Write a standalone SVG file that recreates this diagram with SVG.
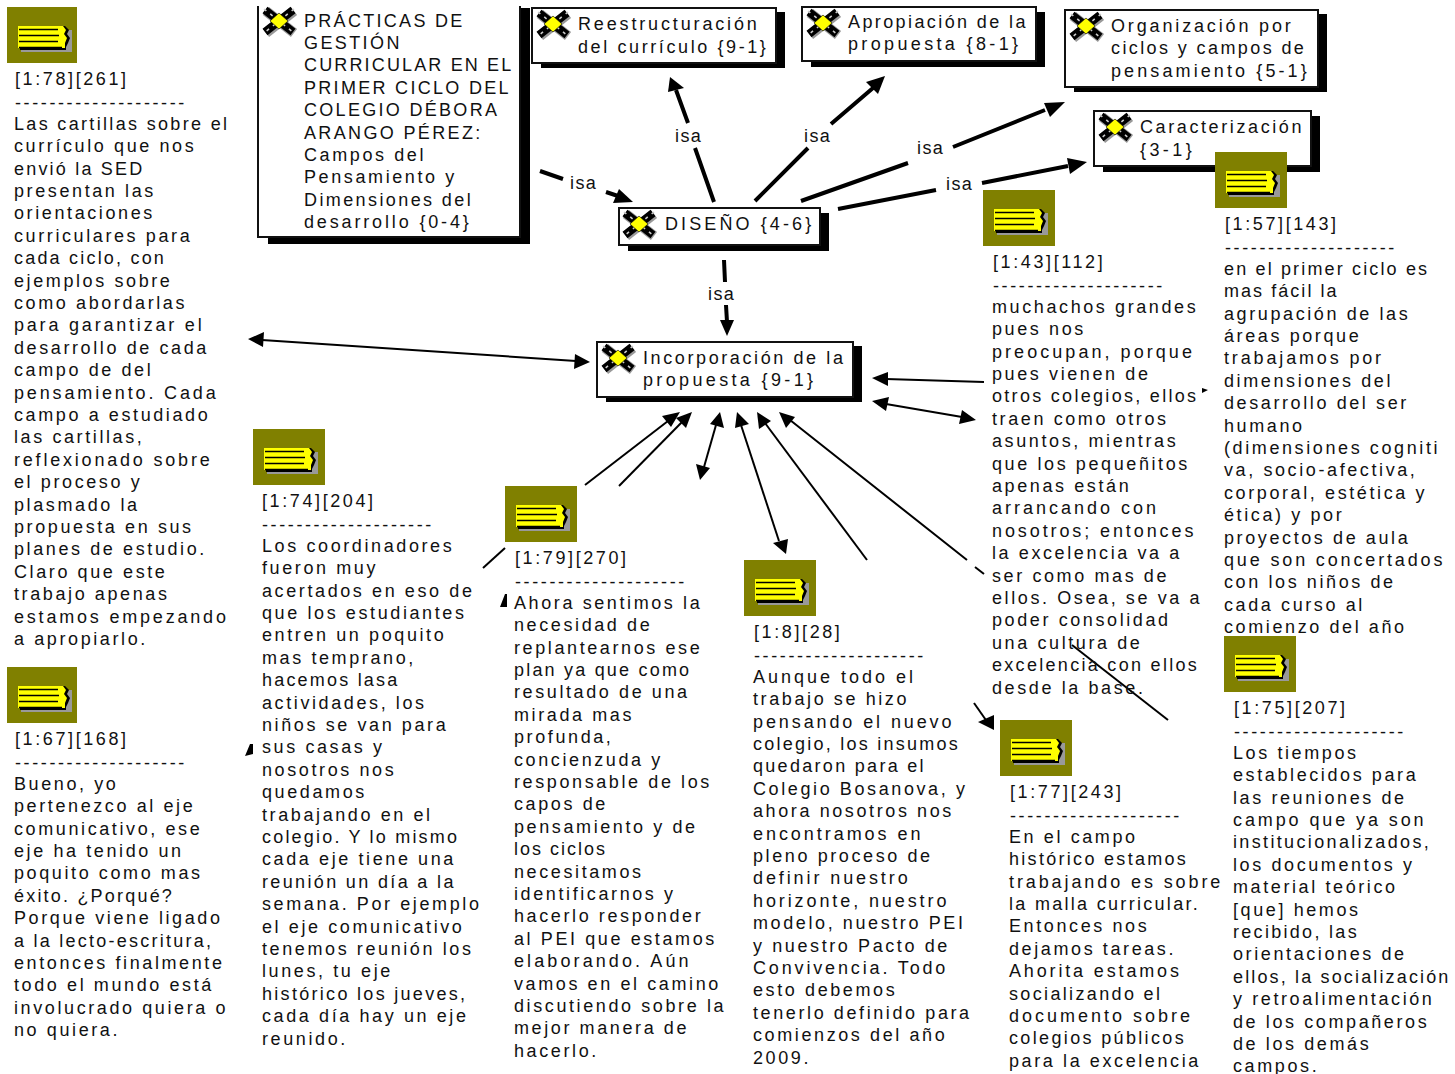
<svg xmlns="http://www.w3.org/2000/svg" width="1455" height="1074" viewBox="0 0 1455 1074">
<style>
text{font-family:"Liberation Sans",Arial,sans-serif;font-size:18px;letter-spacing:2.6px;fill:#111}
.b{fill:#fff;stroke:#111;stroke-width:2}
.s{fill:#000}
.o{fill:#808000}
.t{stroke:#000;stroke-width:2;fill:none}
.k{stroke:#000;stroke-width:4;fill:none}
.h{fill:#000}
.l{letter-spacing:1.4px}
</style>
<defs>
<g id="star">
<path d="M-14,-11L14,11M14,-11L-14,11" stroke="#999" stroke-width="10" fill="none" transform="translate(1,1)"/>
<path d="M-14,-11L14,11M14,-11L-14,11" stroke="#000" stroke-width="8" fill="none"/>
<path d="M-15,-12L15,12M15,-12L-15,12" stroke="#ccc" stroke-width="1.6" stroke-dasharray="3 5" fill="none"/>
<path d="M0,-8L9,0L0,8L-9,0Z" fill="#ff0" stroke="#000" stroke-width="0.6"/>
</g>
<g id="note">
<path d="M14,23H65V45H14Z" fill="#999"/>
<path d="M13,19H58L62,23L60,27L63,31L61,36L59,40V43H13Z" fill="#000"/>
<path d="M11,19H56L59,23L57,27L60,31L58,36V41H11Z" fill="#ff0"/>
<path d="M12,22.500H51M12,28.500H52M12,34.500H51M12,40.500H55" stroke="#000" stroke-width="1.700"/>
</g>
</defs>
<g id="connectors">
<path class="k" d="M540,171L563,179M606,192L618,196"/>
<path class="h" d="M633,202L613,203L619,189Z"/>
<path class="k" d="M714,202L695,148M688,123L676,90"/>
<path class="h" d="M670,77L684,88L668,92Z"/>
<path class="k" d="M755,201L808,148M831,124L873,88"/>
<path class="h" d="M885,76L878,94L866,82Z"/>
<path class="k" d="M801,201L908,163M953,147L1045,110"/>
<path class="h" d="M1065,102L1050,117L1044,103Z"/>
<path class="k" d="M838,209L936,190M982,183L1068,166"/>
<path class="h" d="M1087,162L1070,174L1067,158Z"/>
<path class="k" d="M724,260L725,282M726,305L727,322"/>
<path class="h" d="M727,336L720,320L734,320Z"/>
<path class="t" d="M262,340L576,361"/>
<path class="h" d="M248,339L264,332L263,347ZM590,362L574,369L575,354Z"/>
<path class="t" d="M984,382L886,379"/>
<path class="h" d="M872,378L888,372L888,386Z"/>
<path class="t" d="M886,404L962,417"/>
<path class="h" d="M872,401L889,397L886,411ZM976,420L959,424L962,410Z"/>
<path class="t" d="M585,485L668,421"/>
<path class="h" d="M680,412L671,427L662,416Z"/>
<path class="t" d="M619,486L682,422"/>
<path class="h" d="M692,412L686,428L676,418Z"/>
<path class="t" d="M704,467L716,425"/>
<path class="h" d="M720,412L724,428L710,424ZM700,480L696,464L710,468Z"/>
<path class="t" d="M741,425L779,541"/>
<path class="h" d="M737,412L749,424L735,428ZM786,554L773,543L788,539Z"/>
<path class="t" d="M867,560L765,423"/>
<path class="h" d="M757,412L771,421L759,429Z"/>
<path class="t" d="M967,560L790,420M975,567L984,574"/>
<path class="h" d="M779,412L795,417L786,428Z"/>
<path class="t" d="M1072,645L1168,720"/>
<path class="t" d="M974,703L988,723"/>
<path class="h" d="M994,730L978,722L994,715Z"/>
<path class="t" d="M483,568L505,548"/>
<path class="h" d="M500,607L505,594H507V607ZM245,756L250,744H253V754ZM1202,388L1208,390L1202,393Z"/>
<text class="l" x="570" y="189">isa</text>
<text class="l" x="675" y="142">isa</text>
<text class="l" x="804" y="142">isa</text>
<text class="l" x="917" y="154">isa</text>
<text class="l" x="946" y="190">isa</text>
<text class="l" x="708" y="300">isa</text>
</g>
<g id="n-practicas">
<path class="s" d="M268,8H530V244H268Z"/>
<path fill="#fff" d="M258,6H520V237H258Z"/>
<path fill="none" stroke="#111" stroke-width="2" d="M258,6V237H520V6"/>
<use href="#star" x="279" y="21"/>
<text x="304" y="26.500"><tspan letter-spacing="2.3">PRÁCTICAS DE</tspan><tspan x="304" dy="22.4" letter-spacing="2.4">GESTIÓN</tspan><tspan x="304" dy="22.4" letter-spacing="2.15">CURRICULAR EN EL</tspan><tspan x="304" dy="22.4" letter-spacing="2.3">PRIMER CICLO DEL</tspan><tspan x="304" dy="22.4" letter-spacing="2.3">COLEGIO DÉBORA</tspan><tspan x="304" dy="22.4" letter-spacing="2.35">ARANGO PÉREZ:</tspan><tspan x="304" dy="22.4">Campos del</tspan><tspan x="304" dy="22.4">Pensamiento y</tspan><tspan x="304" dy="22.4" letter-spacing="2.4">Dimensiones del</tspan><tspan x="304" dy="22.4" letter-spacing="2.85">desarrollo {0-4}</tspan></text>
</g>
<g id="n-reestructuracion">
<rect class="s" x="541" y="12" width="244" height="56"/>
<rect class="b" x="532" y="8" width="244" height="55"/>
<use href="#star" x="553" y="24"/>
<text x="578" y="30"><tspan letter-spacing="2.85">Reestructuración</tspan><tspan x="578" dy="22.6">del currículo {9-1}</tspan></text>
</g>
<g id="n-apropiacion">
<rect class="s" x="811" y="12" width="234" height="55"/>
<rect class="b" x="802" y="7" width="234" height="54"/>
<use href="#star" x="823" y="23"/>
<text x="848" y="28"><tspan letter-spacing="2.4">Apropiación de la</tspan><tspan x="848" dy="22.4" letter-spacing="3.35">propuesta {8-1}</tspan></text>
</g>
<g id="n-organizacion">
<rect class="s" x="1074" y="14" width="253" height="78"/>
<rect class="b" x="1065" y="10" width="253" height="77"/>
<use href="#star" x="1086" y="26"/>
<text x="1111" y="32"><tspan letter-spacing="2.85">Organización por</tspan><tspan x="1111" dy="22.4" letter-spacing="2.4">ciclos y campos de</tspan><tspan x="1111" dy="22.4" letter-spacing="3.1">pensamiento {5-1}</tspan></text>
</g>
<g id="n-caracterizacion">
<rect class="s" x="1103" y="116" width="217" height="56"/>
<rect class="b" x="1094" y="111" width="217" height="55"/>
<use href="#star" x="1115" y="127"/>
<text x="1140" y="133">Caracterización<tspan x="1140" dy="23" letter-spacing="3.4">{3-1}</tspan></text>
</g>
<g id="n-diseno">
<rect class="s" x="628" y="213" width="201" height="38"/>
<rect class="b" x="619" y="208" width="201" height="37"/>
<use href="#star" x="639" y="224"/>
<text x="665" y="230" letter-spacing="3.1" style="letter-spacing:3.1px">DISEÑO {4-6}</text>
</g>
<g id="n-incorporacion">
<rect class="s" x="606" y="346" width="256" height="56"/>
<rect class="b" x="597" y="342" width="256" height="55"/>
<use href="#star" x="618" y="358"/>
<text x="643" y="364">Incorporación de la<tspan x="643" dy="22.4" letter-spacing="3.35">propuesta {9-1}</tspan></text>
</g>
<g id="q-78">
<rect class="o" x="7" y="7" width="70" height="56"/>
<use href="#note" x="7" y="7"/>
<text x="15" y="85">[1:78][261]<tspan x="15" dy="23.5">--------------------</tspan><tspan x="14" dy="21.3" letter-spacing="2.33">Las cartillas sobre el</tspan><tspan x="14" dy="22.4">currículo que nos</tspan><tspan x="14" dy="22.4" letter-spacing="2.2">envió la SED</tspan><tspan x="14" dy="22.4">presentan las</tspan><tspan x="14" dy="22.4">orientaciones</tspan><tspan x="14" dy="22.4">curriculares para</tspan><tspan x="14" dy="22.4" letter-spacing="2.2">cada ciclo, con</tspan><tspan x="14" dy="22.4">ejemplos sobre</tspan><tspan x="14" dy="22.4">como abordarlas</tspan><tspan x="14" dy="22.4" letter-spacing="2.8">para garantizar el</tspan><tspan x="14" dy="22.4">desarrollo de cada</tspan><tspan x="14" dy="22.4">campo de del</tspan><tspan x="14" dy="22.4" letter-spacing="2.85">pensamiento. Cada</tspan><tspan x="14" dy="22.4">campo a estudiado</tspan><tspan x="14" dy="22.4">las cartillas,</tspan><tspan x="14" dy="22.4" letter-spacing="2.8">reflexionado sobre</tspan><tspan x="14" dy="22.4">el proceso y</tspan><tspan x="14" dy="22.4">plasmado la</tspan><tspan x="14" dy="22.4">propuesta en sus</tspan><tspan x="14" dy="22.4">planes de estudio.</tspan><tspan x="14" dy="22.4">Claro que este</tspan><tspan x="14" dy="22.4">trabajo apenas</tspan><tspan x="14" dy="22.4" letter-spacing="2.8">estamos empezando</tspan><tspan x="14" dy="22.4">a apropiarlo.</tspan></text>
</g>
<g id="q-67">
<rect class="o" x="7" y="667" width="70" height="56"/>
<use href="#note" x="7" y="667"/>
<text x="15" y="745">[1:67][168]<tspan x="15" dy="23.5">--------------------</tspan><tspan x="14" dy="21.3">Bueno, yo</tspan><tspan x="14" dy="22.4">pertenezco al eje</tspan><tspan x="14" dy="22.4">comunicativo, ese</tspan><tspan x="14" dy="22.4">eje ha tenido un</tspan><tspan x="14" dy="22.4">poquito como mas</tspan><tspan x="14" dy="22.4" letter-spacing="2.2">éxito. ¿Porqué?</tspan><tspan x="14" dy="22.4">Porque viene ligado</tspan><tspan x="14" dy="22.4" letter-spacing="2.25">a la lecto-escritura,</tspan><tspan x="14" dy="22.4">entonces finalmente</tspan><tspan x="14" dy="22.4">todo el mundo está</tspan><tspan x="14" dy="22.4">involucrado quiera o</tspan><tspan x="14" dy="22.4">no quiera.</tspan></text>
</g>
<g id="q-74">
<rect class="o" x="253" y="429" width="72" height="56"/>
<use href="#note" x="253" y="429"/>
<text x="262" y="507">[1:74][204]<tspan x="262" dy="23.5">--------------------</tspan><tspan x="262" dy="21.3">Los coordinadores</tspan><tspan x="262" dy="22.4">fueron muy</tspan><tspan x="262" dy="22.4">acertados en eso de</tspan><tspan x="262" dy="22.4">que los estudiantes</tspan><tspan x="262" dy="22.4">entren un poquito</tspan><tspan x="262" dy="22.4">mas temprano,</tspan><tspan x="262" dy="22.4" letter-spacing="2.2">hacemos lasa</tspan><tspan x="262" dy="22.4">actividades, los</tspan><tspan x="262" dy="22.4">niños se van para</tspan><tspan x="262" dy="22.4">sus casas y</tspan><tspan x="262" dy="22.4">nosotros nos</tspan><tspan x="262" dy="22.4">quedamos</tspan><tspan x="262" dy="22.4">trabajando en el</tspan><tspan x="262" dy="22.4" letter-spacing="2.2">colegio. Y lo mismo</tspan><tspan x="262" dy="22.4">cada eje tiene una</tspan><tspan x="262" dy="22.4" letter-spacing="2.35">reunión un día a la</tspan><tspan x="262" dy="22.4">semana. Por ejemplo</tspan><tspan x="262" dy="22.4">el eje comunicativo</tspan><tspan x="262" dy="22.4">tenemos reunión los</tspan><tspan x="262" dy="22.4">lunes, tu eje</tspan><tspan x="262" dy="22.4" letter-spacing="2.3">histórico los jueves,</tspan><tspan x="262" dy="22.4">cada día hay un eje</tspan><tspan x="262" dy="22.4">reunido.</tspan></text>
</g>
<g id="q-79">
<rect class="o" x="505" y="486" width="72" height="56"/>
<use href="#note" x="505" y="486"/>
<text x="515" y="564">[1:79][270]<tspan x="515" dy="23.5">--------------------</tspan><tspan x="514" dy="21.3">Ahora sentimos la</tspan><tspan x="514" dy="22.4">necesidad de</tspan><tspan x="514" dy="22.4">replantearnos ese</tspan><tspan x="514" dy="22.4" letter-spacing="2.2">plan ya que como</tspan><tspan x="514" dy="22.4">resultado de una</tspan><tspan x="514" dy="22.4">mirada mas</tspan><tspan x="514" dy="22.4">profunda,</tspan><tspan x="514" dy="22.4">concienzuda y</tspan><tspan x="514" dy="22.4">responsable de los</tspan><tspan x="514" dy="22.4">capos de</tspan><tspan x="514" dy="22.4">pensamiento y de</tspan><tspan x="514" dy="22.4" letter-spacing="2">los ciclos</tspan><tspan x="514" dy="22.4">necesitamos</tspan><tspan x="514" dy="22.4">identificarnos y</tspan><tspan x="514" dy="22.4">hacerlo responder</tspan><tspan x="514" dy="22.4">al PEI que estamos</tspan><tspan x="514" dy="22.4" letter-spacing="3.1">elaborando. Aún</tspan><tspan x="514" dy="22.4">vamos en el camino</tspan><tspan x="514" dy="22.4">discutiendo sobre la</tspan><tspan x="514" dy="22.4">mejor manera de</tspan><tspan x="514" dy="22.4">hacerlo.</tspan></text>
</g>
<g id="q-8">
<rect class="o" x="744" y="560" width="72" height="56"/>
<use href="#note" x="744" y="560"/>
<text x="754" y="638">[1:8][28]<tspan x="754" dy="23.5">--------------------</tspan><tspan x="753" dy="21.3" letter-spacing="3">Aunque todo el</tspan><tspan x="753" dy="22.4">trabajo se hizo</tspan><tspan x="753" dy="22.4" letter-spacing="2.9">pensando el nuevo</tspan><tspan x="753" dy="22.4" letter-spacing="2.25">colegio, los insumos</tspan><tspan x="753" dy="22.4" letter-spacing="2.3">quedaron para el</tspan><tspan x="753" dy="22.4">Colegio Bosanova, y</tspan><tspan x="753" dy="22.4">ahora nosotros nos</tspan><tspan x="753" dy="22.4" letter-spacing="2.95">encontramos en</tspan><tspan x="753" dy="22.4">pleno proceso de</tspan><tspan x="753" dy="22.4" letter-spacing="2.9">definir nuestro</tspan><tspan x="753" dy="22.4" letter-spacing="2.9">horizonte, nuestro</tspan><tspan x="753" dy="22.4">modelo, nuestro PEI</tspan><tspan x="753" dy="22.4">y nuestro Pacto de</tspan><tspan x="753" dy="22.4" letter-spacing="2.85">Convivencia. Todo</tspan><tspan x="753" dy="22.4">esto debemos</tspan><tspan x="753" dy="22.4">tenerlo definido para</tspan><tspan x="753" dy="22.4">comienzos del año</tspan><tspan x="753" dy="22.4">2009.</tspan></text>
</g>
<g id="q-77">
<rect class="o" x="1000" y="720" width="72" height="56"/>
<use href="#note" x="1000" y="720"/>
<text x="1010" y="798">[1:77][243]<tspan x="1010" dy="23.5">--------------------</tspan><tspan x="1009" dy="21.3">En el campo</tspan><tspan x="1009" dy="22.4" letter-spacing="2.3">histórico estamos</tspan><tspan x="1009" dy="22.4" letter-spacing="2.9">trabajando es sobre</tspan><tspan x="1009" dy="22.4" letter-spacing="2.3">la malla curricular.</tspan><tspan x="1009" dy="22.4">Entonces nos</tspan><tspan x="1009" dy="22.4">dejamos tareas.</tspan><tspan x="1009" dy="22.4" letter-spacing="2.85">Ahorita estamos</tspan><tspan x="1009" dy="22.4" letter-spacing="2.35">socializando el</tspan><tspan x="1009" dy="22.4" letter-spacing="3">documento sobre</tspan><tspan x="1009" dy="22.4" letter-spacing="2.35">colegios públicos</tspan><tspan x="1009" dy="22.4">para la excelencia</tspan></text>
</g>
<g id="q-43">
<rect class="o" x="983" y="190" width="72" height="56"/>
<use href="#note" x="983" y="190"/>
<text x="993" y="268">[1:43][112]<tspan x="993" dy="23.5">--------------------</tspan><tspan x="992" dy="21.3">muchachos grandes</tspan><tspan x="992" dy="22.4">pues nos</tspan><tspan x="992" dy="22.4" letter-spacing="3.05">preocupan, porque</tspan><tspan x="992" dy="22.4">pues vienen de</tspan><tspan x="992" dy="22.4" letter-spacing="2.3">otros colegios, ellos</tspan><tspan x="992" dy="22.4">traen como otros</tspan><tspan x="992" dy="22.4">asuntos, mientras</tspan><tspan x="992" dy="22.4">que los pequeñitos</tspan><tspan x="992" dy="22.4">apenas están</tspan><tspan x="992" dy="22.4" letter-spacing="3">arrancando con</tspan><tspan x="992" dy="22.4" letter-spacing="2.9">nosotros; entonces</tspan><tspan x="992" dy="22.4">la excelencia va a</tspan><tspan x="992" dy="22.4">ser como mas de</tspan><tspan x="992" dy="22.4">ellos. Osea, se va a</tspan><tspan x="992" dy="22.4">poder consolidad</tspan><tspan x="992" dy="22.4">una cultura de</tspan><tspan x="992" dy="22.4" letter-spacing="2.3">excelencia con ellos</tspan><tspan x="992" dy="22.4">desde la base.</tspan></text>
</g>
<g id="q-57">
<rect class="o" x="1215" y="152" width="72" height="56"/>
<use href="#note" x="1215" y="152"/>
<text x="1225" y="230">[1:57][143]<tspan x="1225" dy="23.5">--------------------</tspan><tspan x="1224" dy="21.3" letter-spacing="2.15">en el primer ciclo es</tspan><tspan x="1224" dy="22.4" letter-spacing="2.05">mas fácil la</tspan><tspan x="1224" dy="22.4">agrupación de las</tspan><tspan x="1224" dy="22.4">áreas porque</tspan><tspan x="1224" dy="22.4" letter-spacing="2.85">trabajamos por</tspan><tspan x="1224" dy="22.4">dimensiones del</tspan><tspan x="1224" dy="22.4">desarrollo del ser</tspan><tspan x="1224" dy="22.4">humano</tspan><tspan x="1224" dy="22.4">(dimensiones cogniti</tspan><tspan x="1224" dy="22.4">va, socio-afectiva,</tspan><tspan x="1224" dy="22.4">corporal, estética y</tspan><tspan x="1224" dy="22.4">ética) y por</tspan><tspan x="1224" dy="22.4">proyectos de aula</tspan><tspan x="1224" dy="22.4" letter-spacing="2.85">que son concertados</tspan><tspan x="1224" dy="22.4">con los niños de</tspan><tspan x="1224" dy="22.4">cada curso al</tspan><tspan x="1224" dy="22.4">comienzo del año</tspan></text>
</g>
<g id="q-75">
<rect class="o" x="1224" y="636" width="72" height="56"/>
<use href="#note" x="1224" y="636"/>
<text x="1234" y="714">[1:75][207]<tspan x="1234" dy="23.5">--------------------</tspan><tspan x="1233" dy="21.3">Los tiempos</tspan><tspan x="1233" dy="22.4">establecidos para</tspan><tspan x="1233" dy="22.4">las reuniones de</tspan><tspan x="1233" dy="22.4" letter-spacing="2.9">campo que ya son</tspan><tspan x="1233" dy="22.4" letter-spacing="2.35">institucionalizados,</tspan><tspan x="1233" dy="22.4">los documentos y</tspan><tspan x="1233" dy="22.4">material teórico</tspan><tspan x="1233" dy="22.4">[que] hemos</tspan><tspan x="1233" dy="22.4" letter-spacing="2.3">recibido, las</tspan><tspan x="1233" dy="22.4">orientaciones de</tspan><tspan x="1233" dy="22.4" letter-spacing="2.15">ellos, la socialización</tspan><tspan x="1233" dy="22.4">y retroalimentación</tspan><tspan x="1233" dy="22.4">de los compañeros</tspan><tspan x="1233" dy="22.4">de los demás</tspan><tspan x="1233" dy="22.4">campos.</tspan></text>
</g>
</svg>
